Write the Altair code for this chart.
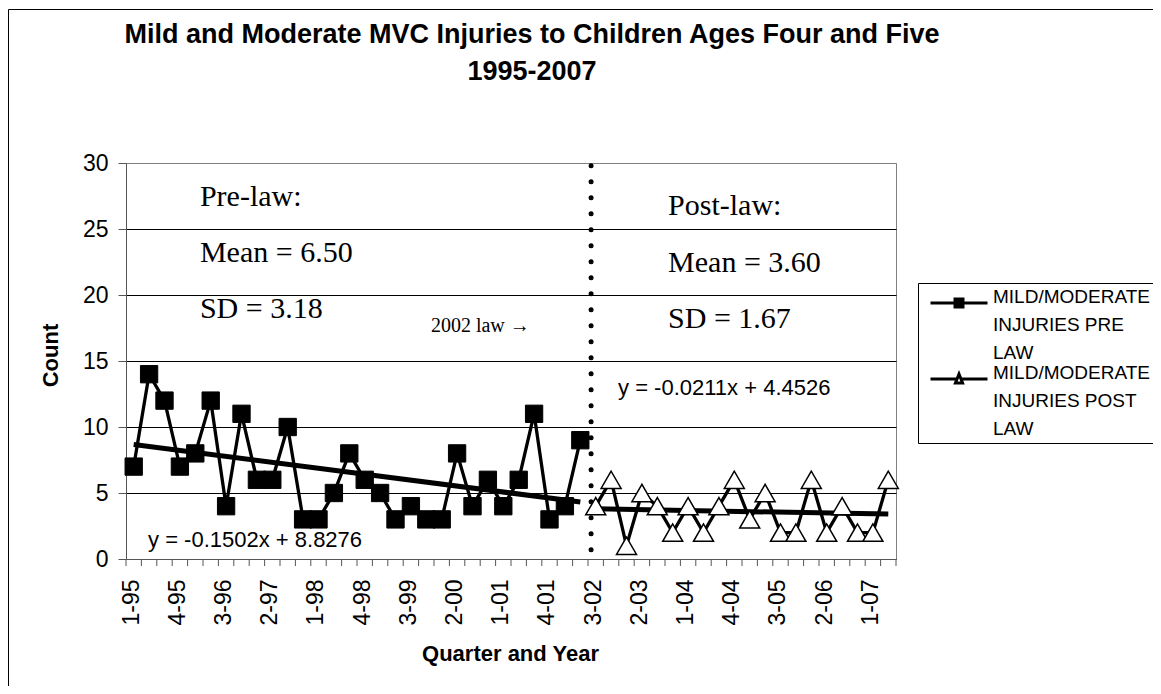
import json
import altair as alt
import pandas as pd

# ---------------- data ----------------
QUARTERS = [
    "1-95", "2-95", "3-95", "4-95", "1-96", "2-96", "3-96", "4-96",
    "1-97", "2-97", "3-97", "4-97", "1-98", "2-98", "3-98", "4-98",
    "1-99", "2-99", "3-99", "4-99", "1-00", "2-00", "3-00", "4-00",
    "1-01", "2-01", "3-01", "4-01", "1-02", "2-02", "3-02", "4-02",
    "1-03", "2-03", "3-03", "4-03", "1-04", "2-04", "3-04", "4-04",
    "1-05", "2-05", "3-05", "4-05", "1-06", "2-06", "3-06", "4-06",
    "1-07", "2-07",
]
PRE_VALUES = [7, 14, 12, 7, 8, 12, 4, 11, 6, 6, 10, 3, 3, 5, 8,
              6, 5, 3, 4, 3, 3, 8, 4, 6, 4, 6, 11, 3, 4, 9]
POST_VALUES = [4, 6, 1, 5, 4, 2, 4, 2, 4, 6, 3, 5, 2, 2, 6, 2, 4, 2, 2, 6]
SERIES = ["MILD/MODERATE INJURIES PRE LAW", "MILD/MODERATE INJURIES POST LAW"]
LEGEND_LINES = [["MILD/MODERATE", "INJURIES PRE", "LAW"],
                ["MILD/MODERATE", "INJURIES POST", "LAW"]]
TICK_LABELS = ["1-95", "4-95", "3-96", "2-97", "1-98", "4-98", "3-99", "2-00",
               "1-01", "4-01", "3-02", "2-03", "1-04", "4-04", "3-05", "2-06", "1-07"]
Y_TICKS = [0, 5, 10, 15, 20, 25, 30]

TITLE_LINES = ["Mild and Moderate MVC Injuries to Children Ages Four and Five", "1995-2007"]
STAT_TEXTS = ["Pre-law:", "Mean = 6.50", "SD = 3.18", "Post-law:", "Mean = 3.60", "SD = 1.67"]
STAT_X = [4.8, 4.8, 4.8, 35.2, 35.2, 35.2]
STAT_Y = [26.74, 22.5, 18.26, 26.06, 21.74, 17.5]
LAW_NOTE = ["2002 law \u2192"]
LAW_NOTE_X = [19.8]
LAW_NOTE_Y = [17.2]
EQ_TEXTS = ["y = -0.1502x + 8.8276", "y = -0.0211x + 4.4526"]
EQ_X = [1.43, 31.95]
EQ_Y = [0.91, 12.42]
LAW_AT = 30.2

rows = []
for i, v in enumerate(PRE_VALUES):
    rows.append({"pos": i + 0.5, "quarter": QUARTERS[i], "count": v, "series": SERIES[0]})
for j, v in enumerate(POST_VALUES):
    i = len(PRE_VALUES) + j
    rows.append({"pos": i + 0.5, "quarter": QUARTERS[i], "count": v, "series": SERIES[1]})
df = pd.DataFrame(rows)

# ---------------- styling ----------------
SANS = "Liberation Sans"
SERIF = "Liberation Serif"
W, H = 770, 396
NQ = len(QUARTERS)

x_scale = alt.Scale(domain=[0, NQ], nice=False, zero=False)
y_scale = alt.Scale(domain=[0, 30], nice=False)

label_expr = json.dumps(TICK_LABELS) + "[round(datum.value / 3)]"

x_axis = alt.Axis(
    values=list(range(0, NQ, 3)), labelExpr=label_expr, labelAngle=270,
    labelOffset=5, labelPadding=20, labelFlush=False, labelOverlap=False,
    labelFont=SANS, labelFontSize=23, labelColor="black",
    ticks=False, domainColor="#555555", grid=False,
    titleFont=SANS, titleFontSize=22, titleFontWeight="bold", titleColor="black",
    titleX=384, titleY=101, titleBaseline="alphabetic", titleAlign="center",
)
y_axis = alt.Axis(
    values=Y_TICKS, labelFont=SANS, labelFontSize=23, labelColor="black", labelPadding=10,
    labelOverlap=False,
    tickSize=8, tickColor="#555555", domainColor="#555555",
    grid=True, gridColor=alt.condition("datum.value == 30", alt.value("#808080"), alt.value("black")),
    gridWidth=1,
    titleFont=SANS, titleFontSize=22, titleFontWeight="bold", titleColor="black",
    titleX=-76, titleY=192, titleAngle=270, titleAlign="center", titleBaseline="middle",
)


def XE(field):
    return alt.X(field, scale=x_scale, axis=x_axis, title="Quarter and Year")


def YE(field):
    return alt.Y(field, scale=y_scale, axis=y_axis, title="Count")


base = alt.Chart(df).encode(x=XE("pos:Q"), y=YE("count:Q"))

# chart-area frame (decoration)
frame = alt.Chart(pd.DataFrame({"k": [0]})).mark_rect(
    fill="transparent", stroke="black", strokeWidth=1
).encode(x=alt.value(-117.5), x2=alt.value(1100), y=alt.value(-153.5), y2=alt.value(620))

# category-boundary tick marks under the x axis
x_ticks = alt.Chart(pd.DataFrame({"t": list(range(NQ + 1))})).mark_rule(
    color="#555555", strokeWidth=1
).encode(x=XE("t:Q"), y=alt.value(H), y2=alt.value(H + 7))

trend = base.transform_regression("pos", "count", groupby=["series"]).mark_line(
    color="black", strokeWidth=5
).encode(detail="series:N")

lines = base.mark_line(color="black", strokeWidth=3.3).encode(detail="series:N")

pre_pts = base.transform_filter(alt.datum.series == SERIES[0]).mark_point(
    shape="square", filled=True, fill="black", stroke="black", strokeWidth=1, size=300, opacity=1
)
post_pts = base.transform_filter(alt.datum.series == SERIES[1]).mark_point(
    shape="triangle-up", filled=True, fill="white", stroke="black", strokeWidth=1.5, size=400, opacity=1
)

law_rule = alt.Chart(pd.DataFrame({"k": [0]})).mark_rule(
    color="black", strokeWidth=5, strokeCap="round", strokeDash=[0, 16]
).encode(x=alt.datum(LAW_AT), y=alt.datum(29.8), y2=alt.datum(0))

stats = alt.Chart(pd.DataFrame({"ax": STAT_X, "ay": STAT_Y, "txt": STAT_TEXTS})).mark_text(
    font=SERIF, fontSize=30, color="black", align="left", baseline="alphabetic"
).encode(x=XE("ax:Q"), y=YE("ay:Q"), text="txt:N")

law_note = alt.Chart(pd.DataFrame({"ax": LAW_NOTE_X, "ay": LAW_NOTE_Y, "txt": LAW_NOTE})).mark_text(
    font=SERIF, fontSize=20, color="black", align="left", baseline="alphabetic"
).encode(x=XE("ax:Q"), y=YE("ay:Q"), text="txt:N")

eqs = alt.Chart(pd.DataFrame({"ax": EQ_X, "ay": EQ_Y, "txt": EQ_TEXTS})).mark_text(
    font=SANS, fontSize=22, color="black", align="left", baseline="alphabetic"
).encode(x=XE("ax:Q"), y=YE("ay:Q"), text="txt:N")

title = alt.Chart(pd.DataFrame({"k": [0]})).mark_text(
    font=SANS, fontSize=27, fontWeight="bold", color="black", align="center",
    baseline="alphabetic", lineHeight=37
).encode(x=alt.value(406), y=alt.value(-120), text=alt.value(TITLE_LINES))

# legend (symbols are custom paths: line + marker)
PATH_PRE = "M-2,0L2,0M-0.28,-0.28L0.28,-0.28L0.28,0.28L-0.28,0.28Z"
PATH_POST = "M-2,0L-0.14,0M0.14,0L2,0M0,-0.35L0.25,0.28L-0.25,0.28Z"
legend_expr = ("datum.label == " + json.dumps(SERIES[0]) + " ? " + json.dumps(LEGEND_LINES[0])
               + " : " + json.dumps(LEGEND_LINES[1]))
leg = alt.Legend(
    title=None, orient="none", legendX=792, legendY=120, padding=4,
    strokeColor="black", fillColor="white",
    symbolSize=812, symbolStrokeWidth=3, symbolOffset=21, labelExpr=legend_expr,
    labelFont=SANS, labelFontSize=19, labelColor="black", labelLimit=400,
    labelOffset=18, labelBaseline="alphabetic", rowPadding=0,
)
legend_layer = alt.Chart(pd.DataFrame({"series": SERIES, "lx": [None, None], "ly": [None, None]})).mark_point(
    filled=True, opacity=1, strokeWidth=3
).encode(
    x=XE("lx:Q"), y=YE("ly:Q"),
    shape=alt.Shape("series:N", scale=alt.Scale(domain=SERIES, range=[PATH_PRE, PATH_POST]), legend=leg),
    fill=alt.Fill("series:N", scale=alt.Scale(domain=SERIES, range=["black", "white"]), legend=leg),
    stroke=alt.Stroke("series:N", scale=alt.Scale(domain=SERIES, range=["black", "black"]), legend=leg),
)

chart = alt.layer(
    frame, x_ticks, trend, lines, law_rule, pre_pts, post_pts, stats, law_note, eqs, title, legend_layer
).properties(
    width=W, height=H,
    autosize=alt.AutoSizeParams(type="none"),
    padding={"left": 118, "top": 155, "right": 257, "bottom": 127},
    background="white",
).configure(
    view=alt.ViewConfig(stroke="#808080", strokeWidth=1),
    style={"guide-label": {"lineHeight": 28}},
)

chart.save("out.html", embed_options={"renderer": "svg", "actions": False})
